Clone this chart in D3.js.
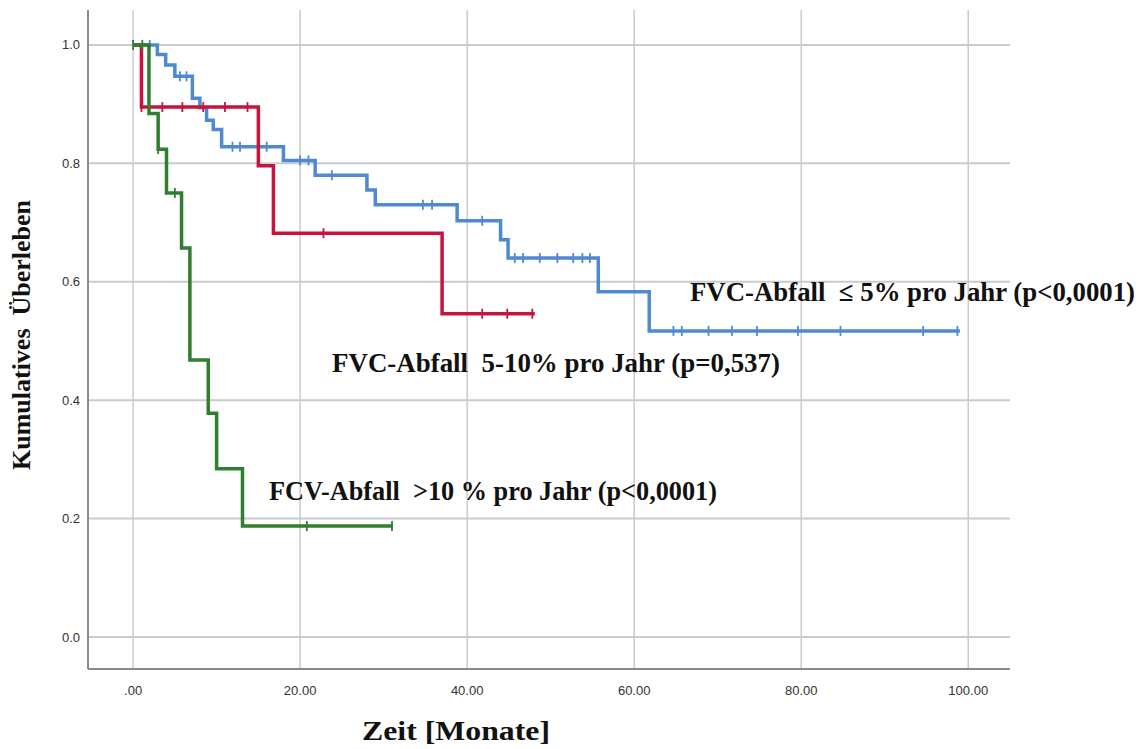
<!DOCTYPE html>
<html>
<head>
<meta charset="utf-8">
<script src="https://cdn.jsdelivr.net/npm/d3@7"></script>
<style>
  html, body { margin: 0; padding: 0; background: #fff; }
  svg { display: block; }
  .serif { font-family: "Liberation Serif", "Times New Roman", serif; font-weight: bold; fill: #111; white-space: pre; }
  .tick-label { font-family: "Liberation Sans", Arial, sans-serif; font-size: 13px; fill: #333; }
</style>
</head>
<body>
<svg id="chart" width="1141" height="749"></svg>
<script>
// Kaplan-Meier step data: event times (months) and survival after each step
const xTicks = [0, 20, 40, 60, 80, 100];
const xTickLabels = [".00", "20.00", "40.00", "60.00", "80.00", "100.00"];
const yTicks = [0, 0.2, 0.4, 0.6, 0.8, 1.0];
const yTickLabels = ["0.0", "0.2", "0.4", "0.6", "0.8", "1.0"];

// FVC decline <= 5% per year
const lowTimes = [0, 2.9, 3.9, 5.0, 7.1, 8.0, 8.8, 9.6, 10.6, 18.0, 21.8, 28.0, 29.0, 38.8, 44.0, 44.9, 55.7, 61.8, 99.0];
const lowSurv  = [1.0, 0.984, 0.966, 0.947, 0.910, 0.894, 0.873, 0.857, 0.828, 0.805, 0.780, 0.755, 0.730, 0.703, 0.671, 0.640, 0.583, 0.517, 0.517];
const lowCensored = [2.0, 5.6, 6.4, 11.9, 12.8, 16.0, 20.0, 21.0, 23.8, 34.7, 35.8, 41.8, 45.7, 46.7, 48.7, 50.8, 52.7, 53.8, 54.7, 64.7, 65.7, 68.9, 71.7, 74.7, 79.6, 84.7, 94.6, 98.7];

// FVC decline 5-10% per year
const midTimes = [0, 1.0, 15.0, 16.8, 37.0, 48.1];
const midSurv  = [1.0, 0.895, 0.796, 0.682, 0.546, 0.546];
const midCensored = [1.0, 3.5, 5.9, 8.4, 11.0, 13.7, 22.8, 41.8, 44.8, 47.8];

// FVC decline > 10% per year
const highTimes = [0, 1.9, 3.0, 4.0, 5.8, 6.8, 9.0, 10.0, 13.1, 31.1];
const highSurv  = [1.0, 0.884, 0.824, 0.750, 0.657, 0.468, 0.378, 0.284, 0.1875, 0.1875];
const highCensored = [0, 1.1, 3.0, 5.0, 20.8, 31.0];

const svg = d3.select("#chart");
const plotLeft = 88, plotRight = 1010, plotTop = 10, plotBottom = 669;

const x = d3.scaleLinear().domain([-5.4, 105]).range([plotLeft, plotRight]);
const y = d3.scaleLinear().domain([-0.054, 1.059]).range([plotBottom, plotTop]);

// grid
svg.append("g").selectAll("line").data(yTicks).join("line")
  .attr("x1", plotLeft).attr("x2", plotRight)
  .attr("y1", d => y(d)).attr("y2", d => y(d))
  .attr("stroke", "#cbcbcb").attr("stroke-width", 2);
svg.append("g").selectAll("line").data(xTicks).join("line")
  .attr("x1", d => x(d)).attr("x2", d => x(d))
  .attr("y1", plotTop).attr("y2", plotBottom)
  .attr("stroke", "#cbcbcb").attr("stroke-width", 1.5);

// axis lines
svg.append("line").attr("x1", plotLeft).attr("x2", plotLeft).attr("y1", plotTop).attr("y2", plotBottom)
  .attr("stroke", "#8a8a8a").attr("stroke-width", 2);
svg.append("line").attr("x1", plotLeft).attr("x2", plotRight).attr("y1", plotBottom).attr("y2", plotBottom)
  .attr("stroke", "#8a8a8a").attr("stroke-width", 2);

// tick labels
svg.append("g").selectAll("text").data(yTicks).join("text")
  .attr("class", "tick-label")
  .attr("x", 80).attr("y", d => y(d))
  .attr("dy", "0.35em").attr("text-anchor", "end")
  .text((d, i) => yTickLabels[i]);
svg.append("g").selectAll("text").data(xTicks).join("text")
  .attr("class", "tick-label")
  .attr("x", d => x(d)).attr("y", 690)
  .attr("dy", "0.35em").attr("text-anchor", "middle")
  .text((d, i) => xTickLabels[i]);

// survival curves
const step = d3.line().x(d => x(d[0])).y(d => y(d[1])).curve(d3.curveStepAfter);

function survivalAt(times, surv, t) {
  let s = surv[0];
  for (let i = 0; i < times.length; i++) if (times[i] <= t) s = surv[i];
  return s;
}

function drawCurve(times, surv, censored, color) {
  const pts = times.map((t, i) => [t, surv[i]]);
  const g = svg.append("g");
  g.append("path").datum(pts)
    .attr("d", step)
    .attr("fill", "none")
    .attr("stroke", color)
    .attr("stroke-width", 3.5)
    .attr("stroke-linejoin", "miter");
  g.selectAll("line.cens").data(censored).join("line")
    .attr("class", "cens")
    .attr("x1", d => x(d)).attr("x2", d => x(d))
    .attr("y1", d => y(survivalAt(times, surv, d)) - 5)
    .attr("y2", d => y(survivalAt(times, surv, d)) + 5)
    .attr("stroke", color).attr("stroke-width", 1.8);
}

drawCurve(lowTimes, lowSurv, lowCensored, "#4f8ad0");
drawCurve(midTimes, midSurv, midCensored, "#c8143c");
drawCurve(highTimes, highSurv, highCensored, "#2f7f2f");

// group annotations
const notes = [
  { text: "FVC-Abfall  \u2264 5% pro Jahr (p<0,0001)", x: 690, y: 301, w: 445 },
  { text: "FVC-Abfall  5-10% pro Jahr (p=0,537)", x: 332, y: 372, w: 448 },
  { text: "FCV-Abfall  >10 % pro Jahr (p<0,0001)", x: 269, y: 500, w: 448 }
];
svg.append("g").selectAll("text").data(notes).join("text")
  .attr("class", "serif")
  .attr("x", d => d.x).attr("y", d => d.y)
  .attr("font-size", 27)
  .attr("textLength", d => d.w)
  .attr("lengthAdjust", "spacingAndGlyphs")
  .text(d => d.text);

// axis titles
svg.append("text").attr("class", "serif")
  .attr("x", 362).attr("y", 740)
  .attr("font-size", 27)
  .attr("textLength", 188)
  .attr("lengthAdjust", "spacingAndGlyphs")
  .text("Zeit [Monate]");
svg.append("text").attr("class", "serif")
  .attr("transform", "translate(30,335) rotate(-90)")
  .attr("text-anchor", "middle")
  .attr("font-size", 26)
  .text("Kumulatives  \u00dcberleben");
</script>
</body>
</html>
